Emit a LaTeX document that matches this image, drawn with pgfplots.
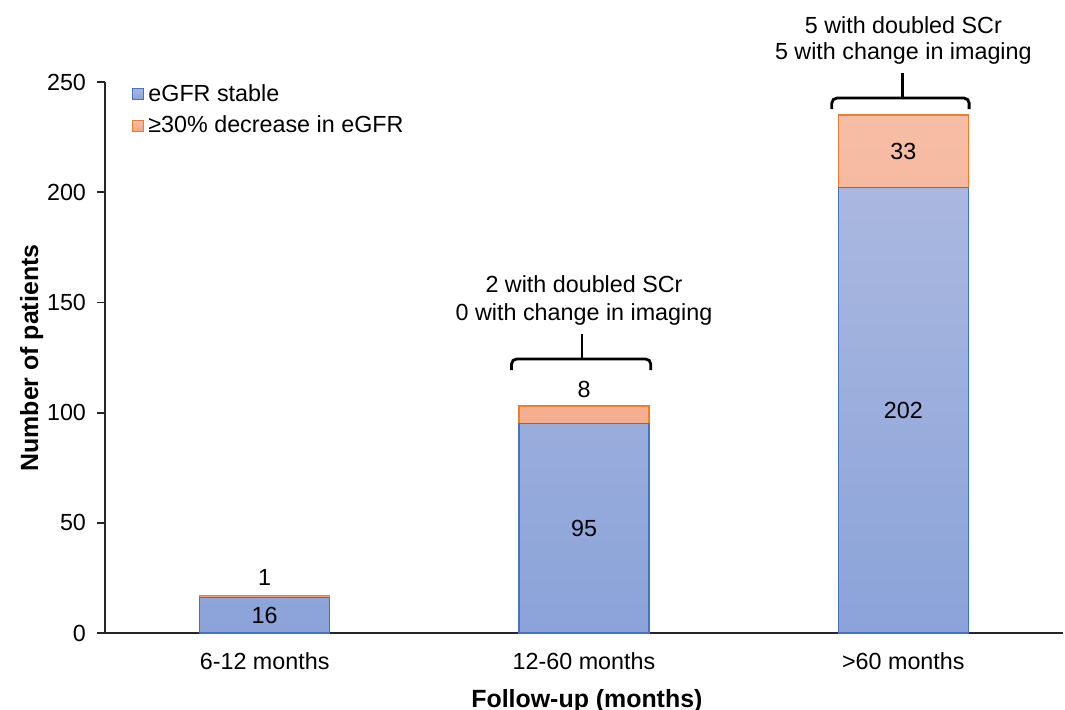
\documentclass[border=0pt]{standalone}
\usepackage{pgfplots}
\pgfplotsset{compat=1.18}
\usepackage{fontspec}
\setmainfont{Liberation Sans}
\definecolor{blueT}{HTML}{AAB8E0}
\definecolor{blueB}{HTML}{8BA3D9}
\definecolor{blueE}{HTML}{4472C4}
\definecolor{orT}{HTML}{F6BEA6}
\definecolor{orB}{HTML}{F2A482}
\definecolor{orE}{HTML}{ED7D31}
\definecolor{axc}{HTML}{262626}
\newcommand\fnt{\fontsize{11.7}{14}\selectfont}
\newcommand\bfnt{\fontsize{12.5}{15}\selectfont\bfseries}
\begin{document}
\begin{tikzpicture}
\path[use as bounding box] (-52.5bp,-38.5bp) rectangle (480bp,316.5bp);
\begin{axis}[
  at={(0,0)}, anchor=south west,
  scale only axis, width=479bp, height=275.5bp,
  ybar stacked, bar width=65bp,
  xmin=-0.5, xmax=2.5, ymin=0, ymax=250,
  axis x line*=bottom, axis y line*=left,
  axis line style={draw=axc, line width=0.9bp},
  xtick={0,1,2}, xticklabels={6-12 months,12-60 months,>60 months},
  ytick={0,50,100,150,200,250},
  major x tick style={draw=none},
  major y tick style={draw=axc, line width=0.9bp},
  tick align=outside, major tick length=4bp,
  /pgf/number format/assume math mode=true,
  ticklabel style={font=\fnt},
  xticklabel style={yshift=-2.5bp},
  yticklabel style={xshift=-2bp},
  xlabel={Follow-up (months)}, ylabel={Number of patients},
  label style={font=\bfnt},
  xlabel style={at={(axis description cs:0.503,-0.123)}, anchor=center},
  ylabel style={at={(axis description cs:-0.0765,0.499)}, anchor=center},
  clip=false,
  legend style={at={(axis description cs:0.028,1.004)}, anchor=north west,
    draw=none, fill=none, font=\fnt, row sep=2bp, inner sep=0pt},
  legend cell align=left,
  legend image code/.code={\draw[#1] (0bp,-2.75bp) rectangle (5.5bp,2.75bp);},
]
\addplot[draw=blueE, line width=0.6bp, top color=blueT, bottom color=blueB]
  coordinates {(0,16) (1,95) (2,202)};
\addlegendentry{eGFR stable}
\addplot[draw=orE, line width=0.6bp, top color=orT, bottom color=orB]
  coordinates {(0,1) (1,8) (2,33)};
\addlegendentry{≥30\% decrease in eGFR}
\end{axis}
\begin{axis}[
  at={(0,0)}, anchor=south west,
  scale only axis, width=479bp, height=275.5bp,
  xmin=-0.5, xmax=2.5, ymin=0, ymax=250,
  hide axis, clip=false,
]
\node[font=\fnt] at (axis cs:0,8) {16};
\node[font=\fnt] at (axis cs:0,25.4) {1};
\node[font=\fnt] at (axis cs:1,47.5) {95};
\node[font=\fnt] at (axis cs:1,110.3) {8};
\node[font=\fnt] at (axis cs:2,101) {202};
\node[font=\fnt] at (axis cs:2,218.5) {33};
\node[font=\fnt, anchor=base] at (axis cs:1,154.3) {2 with doubled SCr};
\node[font=\fnt, anchor=base] at (axis cs:1,142.0) {0 with change in imaging};
\node[font=\fnt, anchor=base] at (axis cs:2,272.2) {5 with doubled SCr};
\node[font=\fnt, anchor=base] at (axis cs:2,260.0) {5 with change in imaging};
\draw[black, line width=1.4bp, rounded corners=2.5bp]
  (axis cs:0.773,119.3) -- (axis cs:0.773,124.3) -- (axis cs:1.209,124.3) -- (axis cs:1.209,119.3);
\draw[black, line width=1.4bp] (axis cs:0.994,124.3) -- (axis cs:0.994,135.7);
\draw[black, line width=1.4bp, rounded corners=2.5bp]
  (axis cs:1.776,237.7) -- (axis cs:1.776,242.7) -- (axis cs:2.206,242.7) -- (axis cs:2.206,237.7);
\draw[black, line width=1.4bp] (axis cs:1.997,242.7) -- (axis cs:1.997,254.1);
\end{axis}
\end{tikzpicture}
\end{document}
